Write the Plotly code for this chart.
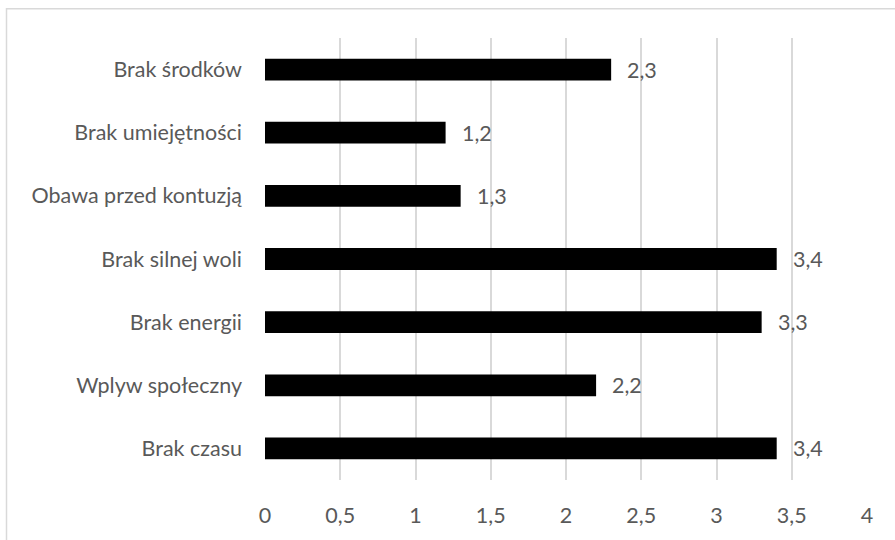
import plotly.graph_objects as go

categories = ["Brak czasu", "Wplyw społeczny", "Brak energii", "Brak silnej woli",
              "Obawa przed kontuzją", "Brak umiejętności", "Brak środków"]
values = [3.4, 2.2, 3.3, 3.4, 1.3, 1.2, 2.3]
x_ticks = [0, 0.5, 1, 1.5, 2, 2.5, 3, 3.5, 4]

FONT = "Lato"
GREY = "#595959"
FS = 21.5

fig = go.Figure(go.Bar(
    x=values, y=categories, orientation="h",
    marker=dict(color="#000000", line=dict(width=0)),
    hoverinfo="skip",
))

for v, c in zip(values, categories):
    fig.add_annotation(x=v, y=c, text=f"{v:.1f}".replace(".", ","),
                       xanchor="left", yanchor="middle", xshift=14, showarrow=False,
                       font=dict(family=FONT, size=FS, color=GREY))

fig.update_layout(
    width=895, height=540,
    margin=dict(l=265, r=28, t=38, b=57),
    paper_bgcolor="white", plot_bgcolor="white",
    separators=", ",
    bargap=0.655,
    showlegend=False,
    font=dict(family=FONT, size=FS, color=GREY),
    xaxis=dict(range=[0, 4], tickvals=x_ticks, showgrid=True, gridcolor="#d9d9d9",
               gridwidth=1.5, zeroline=False, showline=False, ticks="",
               ticklabelstandoff=20, tickfont=dict(family=FONT, size=FS, color=GREY),
               fixedrange=True),
    yaxis=dict(showgrid=False, zeroline=False, showline=False, ticks="",
               ticklabelstandoff=22, tickfont=dict(family=FONT, size=FS, color=GREY),
               fixedrange=True),
    shapes=[dict(type="rect", xref="paper", yref="paper",
                 x0=(6.5 - 265) / 602, x1=1.2, y0=-0.3, y1=1 + (38 - 8.5) / 445,
                 line=dict(color="#d9d9d9", width=1.5), fillcolor="rgba(0,0,0,0)",
                 layer="below")],
)

fig.write_html("out.html")
